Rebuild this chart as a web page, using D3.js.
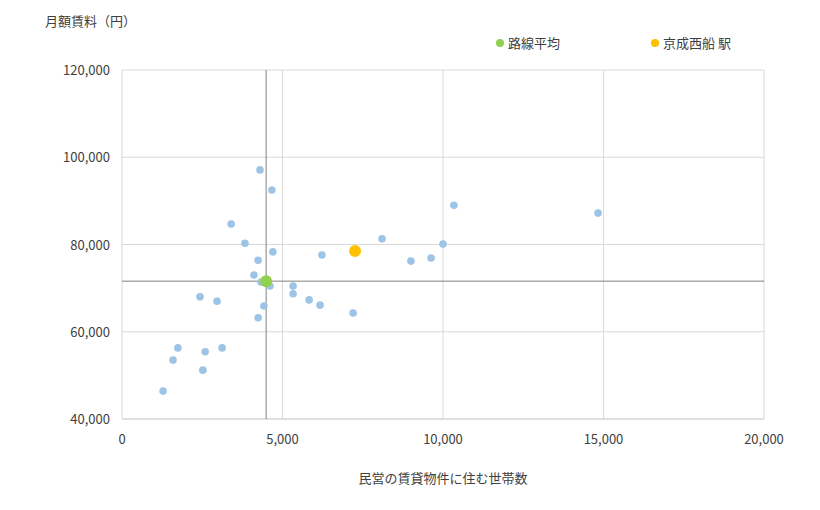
<!DOCTYPE html><html><head><meta charset="utf-8"><script src="https://cdn.jsdelivr.net/npm/d3@7"></script>
<style>body{margin:0;background:#fff}text{font-family:"Noto Sans CJK JP","Noto Sans",sans-serif;fill:#404040}</style></head><body><svg id="c" width="820" height="510"></svg><script>
const stationsX=[4300,4670,3400,3830,4240,4700,4110,4330,4610,4420,4240,2430,2960,5330,5330,5830,6170,6230,7200,8100,9000,9630,10000,10340,14830,1740,1590,2590,3120,2520,1280];
const stationsY=[97100,92500,84700,80300,76400,78300,73000,71400,70500,65900,63200,68000,67000,70500,68700,67300,66100,77600,64300,81300,76200,76900,80100,89000,87200,56300,53500,55400,56300,51200,46400];
const avg=[4490,71600];
const target=[7260,78500];
const xTicks=[0,5000,10000,15000,20000];
const yTicks=[40000,60000,80000,100000,120000];
const svg=d3.select("#c");
const x=d3.scaleLinear([0,20000],[122,764]);
const y=d3.scaleLinear([40000,120000],[419,70]);
const fmt=d3.format(",");
svg.append("g").selectAll("line").data(xTicks.slice(1)).join("line").attr("x1",x).attr("x2",x).attr("y1",70).attr("y2",419).attr("stroke","#d9d9d9");
svg.append("g").selectAll("line").data(yTicks.slice(1)).join("line").attr("y1",y).attr("y2",y).attr("x1",122).attr("x2",764).attr("stroke","#d9d9d9");
svg.append("line").attr("x1",122).attr("x2",764).attr("y1",419).attr("y2",419).attr("stroke","#bfbfbf");
svg.append("line").attr("x1",122).attr("x2",122).attr("y1",70).attr("y2",419).attr("stroke","#d9d9d9");
svg.append("line").attr("x1",x(avg[0])).attr("x2",x(avg[0])).attr("y1",70).attr("y2",419).attr("stroke","#808080");
svg.append("line").attr("x1",122).attr("x2",764).attr("y1",y(avg[1])).attr("y2",y(avg[1])).attr("stroke","#808080");
svg.append("g").selectAll("text").data(xTicks).join("text").attr("x",x).attr("y",444).attr("text-anchor","middle").attr("font-size",13).text(fmt);
svg.append("g").selectAll("text").data(yTicks).join("text").attr("x",110).attr("y",d=>y(d)+5).attr("text-anchor","end").attr("font-size",13).text(fmt);
svg.append("g").selectAll("circle").data(stationsX).join("circle").attr("cx",d=>x(d)).attr("cy",(d,i)=>y(stationsY[i])).attr("r",3.8).attr("fill","#9dc3e6");
svg.append("circle").attr("cx",x(avg[0])).attr("cy",y(avg[1])).attr("r",6).attr("fill","#92d050");
svg.append("circle").attr("cx",x(target[0])).attr("cy",y(target[1])).attr("r",6).attr("fill","#ffc000");
svg.append("text").attr("x",45).attr("y",26).attr("font-size",13).text("月額賃料（円）");
svg.append("text").attr("x",443).attr("y",483).attr("text-anchor","middle").attr("font-size",13).text("民営の賃貸物件に住む世帯数");
svg.append("circle").attr("cx",500).attr("cy",43).attr("r",4).attr("fill","#92d050");
svg.append("text").attr("x",508).attr("y",48).attr("font-size",13).text("路線平均");
svg.append("circle").attr("cx",655).attr("cy",43).attr("r",4).attr("fill","#ffc000");
svg.append("text").attr("x",663).attr("y",48).attr("font-size",13).text("京成西船 駅");
</script></body></html>
